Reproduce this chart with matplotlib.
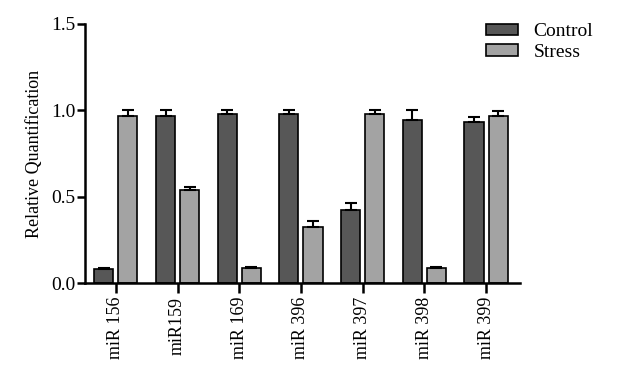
import numpy as np
import matplotlib
matplotlib.use("Agg")
import matplotlib.pyplot as plt
from matplotlib.patches import Patch

categories = ["miR 156", "miR159", "miR 169", "miR 396", "miR 397", "miR 398", "miR 399"]
control = [0.08, 0.967, 0.98, 0.98, 0.42, 0.944, 0.93]
control_err = [0.005, 0.033, 0.02, 0.02, 0.046, 0.056, 0.03]
stress = [0.967, 0.54, 0.089, 0.326, 0.98, 0.089, 0.969]
stress_err = [0.033, 0.018, 0.005, 0.035, 0.02, 0.005, 0.03]
series_names = ["Control", "Stress"]
yticks = [0.0, 0.5, 1.0, 1.5]

plt.rcParams['font.family'] = ['Liberation Serif', 'DejaVu Serif']

fig = plt.figure(figsize=(6.17, 3.72), dpi=100)
ax = fig.add_axes([85/617, 1-283/372, (520-85)/617, (283-24)/372])

x = np.arange(len(categories))
w = 0.31
off = 0.195
c_dark = "#575757"
c_light = "#a3a3a3"
ekw = dict(elinewidth=1.5, capsize=4, capthick=1.5, ecolor="black")
ax.bar(x - off, control, w, color=c_dark, edgecolor="black", linewidth=1.2,
       yerr=[np.zeros(len(x)), control_err], error_kw=ekw, zorder=2)
ax.bar(x + off, stress, w, color=c_light, edgecolor="black", linewidth=1.2,
       yerr=[np.zeros(len(x)), stress_err], error_kw=ekw, zorder=2)

ax.set_xlim(-0.5, 6.55)
ax.set_ylim(0, 1.5)
ax.set_yticks(yticks)
ax.set_yticklabels([f"{v:.1f}" for v in yticks], fontsize=14)
ax.set_xticks(x)
ax.set_xticklabels(categories, rotation=90, fontsize=13)
ax.set_ylabel("Relative Quantification", fontsize=13, labelpad=6)

for s in ["top", "right"]:
    ax.spines[s].set_visible(False)
for s in ["left", "bottom"]:
    ax.spines[s].set_linewidth(1.8)
ax.tick_params(axis='y', direction='out', width=1.8, length=6, pad=1)
ax.tick_params(axis='x', direction='out', width=1.8, length=7, pad=3)

handles = [Patch(facecolor=c_dark, edgecolor="black", linewidth=1.2),
           Patch(facecolor=c_light, edgecolor="black", linewidth=1.2)]
fig.legend(handles, series_names, loc='upper left',
           bbox_to_anchor=(486/617, 1-23/372), frameon=False, fontsize=14,
           handlelength=1.65, handleheight=0.5, handletextpad=0.8,
           labelspacing=0.2, borderpad=0, borderaxespad=0)

fig.savefig("out.png", dpi=100)
